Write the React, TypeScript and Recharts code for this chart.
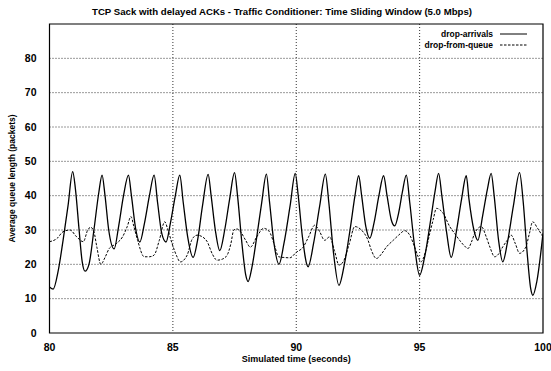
import React from "react";
import {
  LineChart,
  Line,
  XAxis,
  YAxis,
  CartesianGrid,
  Legend,
  ReferenceArea,
  Label,
} from "recharts";

const chartTitle =
  "TCP Sack with delayed ACKs - Traffic Conditioner: Time Sliding Window (5.0 Mbps)";
const xTicks = [80, 85, 90, 95, 100];
const yTicks = [0, 10, 20, 30, 40, 50, 60, 70, 80];

const arrivalTimes = [
  80.0, 80.15, 80.35, 80.55, 80.75, 80.94, 81.05, 81.2, 81.32, 81.44, 81.6, 81.8, 82.0, 82.13,
  82.25, 82.4, 82.62, 82.8, 83.0, 83.2, 83.32, 83.5, 83.66, 83.85, 84.05, 84.24, 84.38, 84.55,
  84.72, 84.9, 85.1, 85.28, 85.42, 85.6, 85.82, 86.0, 86.2, 86.43, 86.55, 86.72, 86.9, 87.1,
  87.3, 87.5, 87.62, 87.8, 87.95, 88.05, 88.2, 88.4, 88.6, 88.79, 88.92, 89.1, 89.3, 89.5,
  89.75, 89.96, 90.08, 90.25, 90.48, 90.7, 90.95, 91.18, 91.32, 91.5, 91.73, 91.95, 92.2,
  92.38, 92.53, 92.65, 92.82, 92.98, 93.15, 93.35, 93.54, 93.68, 93.85, 93.99, 94.15, 94.3,
  94.46, 94.6, 94.8, 95.0, 95.2, 95.45, 95.62, 95.77, 95.9, 96.1, 96.28, 96.5, 96.7, 96.89,
  97.0, 97.2, 97.36, 97.55, 97.75, 97.9, 98.02, 98.2, 98.37, 98.55, 98.8, 99.05, 99.2, 99.35,
  99.5, 99.59, 99.75, 100.0,
];
const arrivalValues = [
  13.4, 12.8, 18, 27, 37, 47, 42, 30, 21, 18, 20, 30, 41, 46, 40, 30, 24.5, 31, 40, 46, 40, 30,
  26.5, 32, 40, 46, 38, 29, 26.5, 32, 40, 46, 38, 28, 22, 27, 37, 46.2, 40, 30, 24, 30, 39, 46.7,
  40, 26, 17, 15, 19, 28, 38, 46.3, 38, 26, 20, 26, 37, 46.5, 40, 28, 19.3, 26, 37, 46.3, 38, 24,
  13.9, 20, 31, 40, 45.8, 40, 31, 27.6, 32, 40, 45.8, 40, 33, 31.2, 35, 41, 46, 38, 25, 16.8, 22,
  33, 41, 46.5, 40, 29, 22, 30, 39, 45.8, 39, 30, 27, 34, 42, 46.5, 40, 27, 20.7, 26, 37, 46.7,
  38, 24, 13, 11, 15, 29,
];

const queueTimes = [
  80.0, 80.3, 80.55, 80.83, 81.1, 81.37, 81.55, 81.67, 81.8, 81.92, 82.08, 82.25, 82.42, 82.7,
  82.96, 83.15, 83.3, 83.42, 83.57, 83.84, 84.05, 84.24, 84.45, 84.67, 84.8, 84.97, 85.15, 85.3,
  85.58, 85.78, 85.98, 86.2, 86.39, 86.6, 86.79, 87.0, 87.2, 87.35, 87.47, 87.6, 87.74, 87.95,
  88.14, 88.4, 88.68, 88.85, 88.95, 89.1, 89.29, 89.5, 89.74, 90.0, 90.28, 90.5, 90.75, 90.95,
  91.15, 91.35, 91.55, 91.73, 91.9, 92.15, 92.37, 92.64, 92.91, 93.05, 93.25, 93.45, 93.66,
  93.93, 94.15, 94.4, 94.6, 94.8, 94.94, 95.05, 95.25, 95.41, 95.55, 95.68, 95.95, 96.22, 96.42,
  96.62, 96.8, 96.96, 97.1, 97.23, 97.5, 97.7, 97.85, 98.04, 98.2, 98.37, 98.55, 98.71, 98.88,
  99.05, 99.3, 99.45, 99.58, 99.78, 100.0,
];
const queueValues = [
  26.6, 27.5, 29.5, 30, 28, 26.6, 30, 30.8, 29.5, 25, 20, 22, 24.6, 26, 28, 31, 33.9, 31, 27, 22.2,
  22.2, 22.7, 27, 32.4, 30, 26, 22.5, 20.7, 22.7, 27.3, 28.5, 28, 26.6, 23, 21.2, 21.5, 22.7, 26,
  30, 30.3, 29.5, 27, 25, 28, 30.5, 30, 29, 26, 22.2, 22, 21.9, 23.5, 25, 28, 31.4, 29.5, 27, 28,
  24, 19.8, 20.7, 26, 31, 30, 27, 24, 21.7, 23, 25.1, 27, 28.5, 29.8, 28.5, 25, 22.2, 20.7, 24, 29,
  33, 36.3, 34.9, 31, 29, 27, 25.5, 24.6, 26.5, 29, 31, 28, 25, 22.2, 23, 25.1, 27, 28.5, 26, 23.2,
  25, 29, 32.4, 30.5, 28,
];

const arrivalData = arrivalTimes.map((t, i) => ({ t, v: arrivalValues[i] }));
const queueData = queueTimes.map((t, i) => ({ t, v: queueValues[i] }));

const FONT = '"Liberation Sans", Arial, Helvetica, sans-serif';

const renderLegend = (props: any) => {
  const payload = props.payload || [];
  return (
    <svg width={160} height={26} style={{ display: "block" }}>
      {payload.map((p: any, i: number) => {
        const cy = 6 + i * 11;
        const dashed = i === 1;
        return (
          <g key={i}>
            <text
              x={113}
              y={cy}
              dy="0.35em"
              textAnchor="end"
              fontFamily={FONT}
              fontSize={8.5}
              fontWeight="bold"
              fill="#000"
            >
              {p.value}
            </text>
            <line
              x1={120}
              x2={147}
              y1={cy}
              y2={cy}
              stroke="#000"
              strokeWidth={1}
              strokeDasharray={dashed ? "2.5 1.5" : undefined}
            />
          </g>
        );
      })}
    </svg>
  );
};

export default function App() {
  const tickStyle = { fontFamily: FONT, fontSize: 10.5, fontWeight: "bold", fill: "#000" };
  return (
    <div
      style={{
        position: "absolute",
        left: 0,
        top: 0,
        width: 551,
        height: 371,
        background: "#fff",
      }}
    >
      <svg
        width={551}
        height={20}
        style={{ position: "absolute", left: 0, top: 0, pointerEvents: "none" }}
      >
        <text
          x={282}
          y={12}
          dy="0.35em"
          textAnchor="middle"
          fontFamily={FONT}
          fontSize={9.5}
          fontWeight="bold"
          fill="#000"
          textLength={380}
          lengthAdjust="spacingAndGlyphs"
        >
          {chartTitle}
        </text>
      </svg>
      <LineChart
        width={551}
        height={371}
        margin={{ top: 24, right: 8, bottom: 0, left: 0 }}
      >
        <CartesianGrid
          stroke="#333"
          strokeDasharray="1 2"
          horizontalValues={yTicks.slice(1)}
          verticalValues={[85, 90, 95]}
        />
        <XAxis
          type="number"
          dataKey="t"
          domain={[80, 100]}
          ticks={xTicks}
          allowDataOverflow
          tickLine={false}
          axisLine={false}
          tick={tickStyle}
          tickMargin={5}
          height={38}
        >
          <Label
            value="Simulated time (seconds)"
            position="insideBottom"
            offset={9}
            style={{ fontFamily: FONT, fontSize: 9, fontWeight: "bold", fill: "#000" }}
          />
        </XAxis>
        <YAxis
          type="number"
          dataKey="v"
          domain={[0, 90]}
          ticks={yTicks}
          allowDataOverflow
          tickLine={false}
          axisLine={false}
          tick={tickStyle}
          tickMargin={7}
          width={49.5}
        >
          <Label
            value="Average queue length (packets)"
            angle={-90}
            position="insideLeft"
            offset={12}
            style={{
              fontFamily: FONT,
              fontSize: 8.5,
              fontWeight: "bold",
              fill: "#000",
              textAnchor: "middle",
            }}
          />
        </YAxis>
        <ReferenceArea
          x1={80}
          x2={100}
          y1={0}
          y2={90}
          fill="none"
          stroke="#000"
          strokeWidth={1.2}
          ifOverflow="visible"
        />
        <Legend
          layout="horizontal"
          verticalAlign="middle"
          align="center"
          content={renderLegend}
          wrapperStyle={{ position: "absolute", top: 28, left: 380, width: 160, height: 26 }}
        />
        <Line
          data={arrivalData}
          dataKey="v"
          name="drop-arrivals"
          type="monotone"
          stroke="#000"
          strokeWidth={1.3}
          dot={false}
          isAnimationActive={false}
        />
        <Line
          data={queueData}
          dataKey="v"
          name="drop-from-queue"
          type="monotone"
          stroke="#000"
          strokeWidth={1}
          strokeDasharray="2.5 1.5"
          dot={false}
          isAnimationActive={false}
        />
      </LineChart>
    </div>
  );
}
